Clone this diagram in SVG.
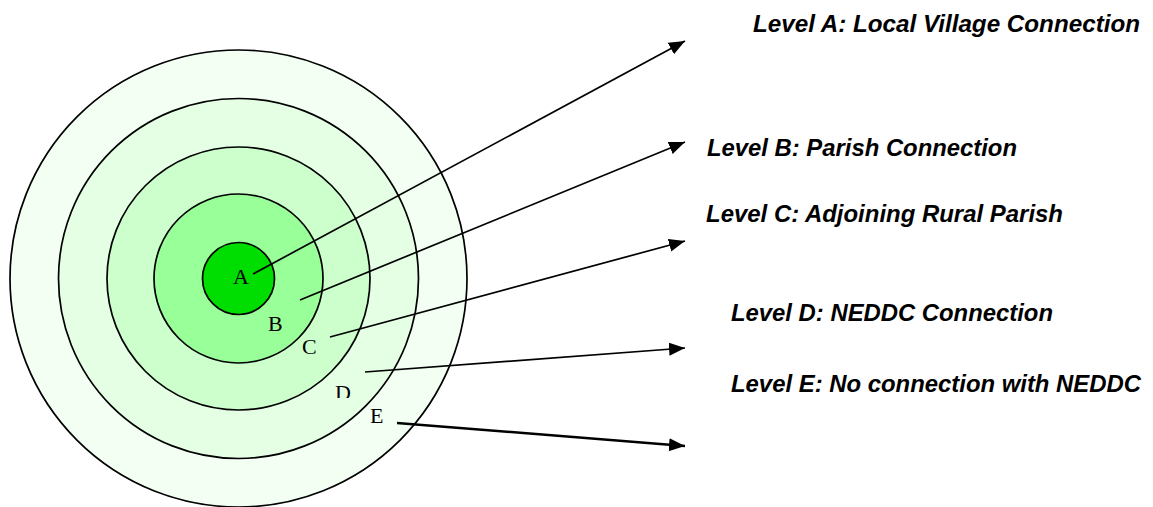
<svg xmlns="http://www.w3.org/2000/svg" width="1153" height="507" viewBox="0 0 1153 507">
<defs>
<style>
.ring{stroke:#000;stroke-width:1.7}
.lbl{font-family:"Liberation Serif","Times New Roman",serif;font-size:22px;fill:#000}
.lvl{font-family:"Liberation Sans",Arial,sans-serif;font-size:23.5px;font-weight:bold;font-style:italic;fill:#000}
.conn{stroke:#000;stroke-width:1.7;fill:none}
</style>
<marker id="ah" markerUnits="userSpaceOnUse" markerWidth="18" markerHeight="15" refX="16" refY="6.5" orient="auto">
<path d="M0,0 L16,6.5 L0,13 z" fill="#000"/>
</marker>
<clipPath id="clipD"><rect x="320" y="375" width="50" height="23"/></clipPath>
</defs>
<rect width="1153" height="507" fill="#fff"/>
<g id="ringE"><circle class="ring" cx="238.5" cy="278.5" r="228.5" fill="#F2FFF2"/></g>
<g id="ringD"><circle class="ring" cx="238.5" cy="278.5" r="180" fill="#E5FFE5"/></g>
<g id="ringC"><circle class="ring" cx="238.5" cy="278.5" r="131.5" fill="#CCFFCC"/></g>
<g id="ringB"><circle class="ring" cx="238.5" cy="278.5" r="84.5" fill="#99FF99"/></g>
<g id="ringA"><circle class="ring" cx="238.5" cy="278.5" r="36" fill="#00DD00"/></g>
<g id="letters">
<text class="lbl" x="233" y="283.5">A</text>
<text class="lbl" x="268" y="331">B</text>
<text class="lbl" x="302" y="353.5">C</text>
<text class="lbl" x="335" y="400" clip-path="url(#clipD)">D</text>
<text class="lbl" x="370" y="423">E</text>
</g>
<g id="connectors">
<line class="conn" x1="253" y1="274" x2="685" y2="41" marker-end="url(#ah)"/>
<line class="conn" x1="300" y1="300" x2="685" y2="142" marker-end="url(#ah)"/>
<line class="conn" x1="330" y1="337" x2="685" y2="241" marker-end="url(#ah)"/>
<line class="conn" x1="365" y1="372" x2="685" y2="348" marker-end="url(#ah)"/>
<line class="conn" x1="397" y1="423" x2="685" y2="446" marker-end="url(#ah)" style="stroke-width:2.5"/>
</g>
<g id="levelA"><text class="lvl" x="753" y="32" textLength="387" lengthAdjust="spacingAndGlyphs">Level A: Local Village Connection</text></g>
<g id="levelB"><text class="lvl" x="707" y="156" textLength="310" lengthAdjust="spacingAndGlyphs">Level B: Parish Connection</text></g>
<g id="levelC"><text class="lvl" x="706" y="222" textLength="357" lengthAdjust="spacingAndGlyphs">Level C: Adjoining Rural Parish</text></g>
<g id="levelD"><text class="lvl" x="731" y="321" textLength="322" lengthAdjust="spacingAndGlyphs">Level D: NEDDC Connection</text></g>
<g id="levelE"><text class="lvl" x="731" y="392" textLength="410" lengthAdjust="spacingAndGlyphs">Level E: No connection with NEDDC</text></g>
</svg>
